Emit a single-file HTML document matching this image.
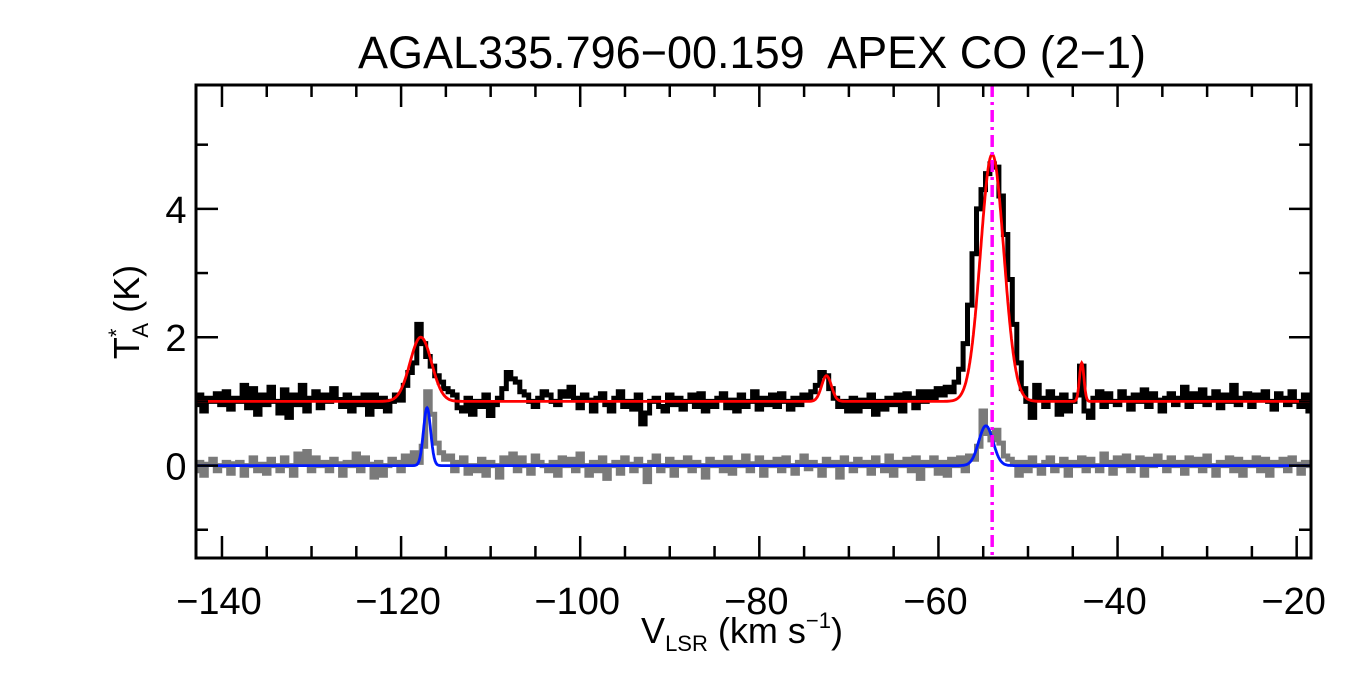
<!DOCTYPE html>
<html><head><meta charset="utf-8">
<style>
html,body{margin:0;padding:0;background:#fff;}
svg{display:block;font-family:"Liberation Sans",Arial,sans-serif;}
</style></head>
<body>
<svg id="chart" width="1350" height="675" viewBox="0 0 1350 675" xmlns="http://www.w3.org/2000/svg">
<rect x="0" y="0" width="1350" height="675" fill="#fff"/>
<text x="752" y="68" font-size="45" text-anchor="middle" fill="#000" style="white-space:pre">AGAL335.796−00.159  APEX CO (2−1)</text>
<g id="plot"></g>
<g id="axes"></g>
<text transform="translate(139,312) rotate(-90)" font-size="36" text-anchor="middle" fill="#000">T<tspan font-size="22" dy="-15">*</tspan><tspan font-size="22" dx="-9" dy="24">A</tspan><tspan dy="-9"> (K)</tspan></text>
<text x="742" y="643" font-size="36" text-anchor="middle" fill="#000">V<tspan font-size="22" dy="8">LSR</tspan><tspan dy="-8"> (km s</tspan><tspan font-size="22" dy="-15">−1</tspan><tspan dy="15">)</tspan></text>
</svg>
<script>
const NS="http://www.w3.org/2000/svg";
const vStart=-143.0, vStep=0.5;
const coSpectrum=[
0.95,1.1,0.85,1.05,1.0,1.12,0.95,1.15,0.88,1.05,
1.0,1.25,0.9,1.2,0.8,1.1,0.95,1.22,1.0,0.82,
1.18,0.75,1.1,0.95,1.25,0.85,1.05,1.15,0.9,1.1,
1.0,1.2,1.03,0.92,1.1,0.85,1.05,0.95,1.1,0.8,
1.1,0.92,1.05,0.85,1.0,1.1,1.02,1.25,1.45,1.6,
2.2,1.9,1.7,1.55,1.4,1.3,1.2,1.15,1.1,0.9,
0.85,1.05,0.8,1.0,0.92,1.1,0.78,0.95,1.05,1.2,
1.45,1.35,1.3,1.15,1.1,1.0,0.92,1.05,1.15,1.1,
1.0,0.95,1.15,1.08,1.22,1.05,0.9,1.1,1.02,0.85,
1.05,1.12,0.95,0.85,1.05,1.15,0.92,1.0,0.88,1.1,
0.65,0.82,1.0,1.05,0.92,0.85,1.1,0.95,1.05,0.88,
1.0,1.1,0.92,1.12,0.85,1.0,0.92,1.05,1.12,0.9,
1.02,0.85,1.1,0.92,1.0,1.15,0.88,1.05,0.95,1.1,
0.92,1.12,1.0,0.88,1.05,0.95,1.1,1.03,1.15,1.25,
1.45,1.4,1.2,1.05,0.92,1.0,0.85,1.05,0.85,1.02,
0.92,1.1,0.8,1.0,0.88,1.05,0.95,1.1,0.85,1.12,
1.05,0.9,1.15,1.0,1.15,1.05,1.2,1.1,1.22,1.15,
1.3,1.5,1.9,2.5,3.3,4.0,4.3,4.55,4.7,4.65,
4.2,3.6,2.9,2.2,1.6,1.2,1.0,0.75,1.25,1.05,
0.92,1.15,1.05,0.8,1.1,0.85,1.0,1.1,1.55,0.85,
0.75,1.05,1.15,0.92,1.12,1.0,0.95,1.15,1.05,0.88,
1.1,1.0,1.18,0.92,1.12,1.02,0.85,1.05,1.12,0.95,
1.05,1.22,0.92,1.12,1.0,1.18,0.95,1.05,1.15,0.9,
1.1,1.0,1.25,0.95,1.05,1.12,0.92,1.1,1.02,1.15,
1.0,0.88,1.12,1.05,0.95,1.15,1.0,0.92,1.1,0.85];
const isoSpectrum=[
-0.08,0.05,-0.15,0.02,0.1,-0.08,0.0,0.05,-0.12,0.03,
0.05,-0.15,0.0,0.12,-0.08,0.02,-0.12,0.1,0.0,-0.08,
0.12,0.0,-0.15,0.18,0.05,0.22,-0.08,0.12,0.0,0.05,
-0.08,0.1,0.03,-0.15,0.05,0.0,0.18,-0.08,0.12,0.02,
-0.18,0.05,-0.15,0.0,0.1,0.05,-0.08,0.15,0.02,0.2,
0.05,0.3,1.15,0.8,0.35,0.2,0.1,0.15,-0.08,0.05,
0.12,-0.12,0.0,-0.08,0.1,-0.15,0.05,0.0,-0.18,0.12,
0.05,0.18,-0.08,0.12,0.0,-0.12,0.15,0.05,0.0,-0.08,
0.05,-0.15,0.12,0.0,0.1,-0.08,0.18,0.0,-0.15,0.05,
-0.08,0.12,-0.2,0.0,0.05,-0.12,0.12,0.02,-0.08,0.1,
0.0,-0.25,0.05,0.15,-0.08,0.0,0.1,-0.15,0.05,0.0,
0.12,-0.08,0.05,0.0,-0.18,0.1,0.0,0.05,-0.08,0.12,
-0.12,0.05,0.0,0.15,-0.08,0.03,0.12,-0.15,0.05,0.0,
0.1,-0.08,0.12,0.0,-0.12,0.05,0.15,-0.05,0.05,0.0,
-0.15,0.1,0.0,0.05,-0.18,0.12,0.02,-0.08,0.1,0.0,
0.05,-0.12,0.12,0.0,-0.08,0.15,-0.15,0.05,0.0,0.1,
-0.08,0.12,-0.2,0.05,0.0,0.12,-0.12,0.05,-0.15,0.1,
0.0,0.12,-0.08,0.15,0.1,0.3,0.85,0.5,0.4,0.55,
0.35,0.15,0.1,0.05,-0.15,0.05,-0.08,0.12,0.0,-0.12,
0.05,0.12,-0.08,0.0,0.1,-0.15,0.05,0.0,0.12,-0.08,
0.1,0.0,-0.08,0.18,0.05,-0.12,0.12,0.0,0.15,-0.08,
0.05,0.12,-0.15,0.1,0.0,0.15,0.05,-0.08,0.12,0.0,
0.05,-0.12,0.12,0.0,0.1,-0.08,0.15,0.0,-0.15,0.05,
0.0,0.12,-0.08,0.1,-0.15,0.05,0.0,0.12,-0.08,0.1,
-0.15,0.05,0.0,0.1,-0.08,0.12,0.02,-0.12,0.05,0.0];
const coFitCenters=[-117.8,-72.5,-54.0,-44.0];
const coFitAmps=[1.0,0.4,3.85,0.6];
const coFitSigmas=[1.2,0.55,1.3,0.25];
const coFitBase=1.0;
const isoFitCenters=[-117.1,-54.7];
const isoFitAmps=[0.9,0.62];
const isoFitSigmas=[0.4,0.8];
const isoFitBase=0.0;
const markerVelocity=-54.0;
const xTicks=[-140,-120,-100,-80,-60,-40,-20];
const yTicks=[0,2,4];

const X0=196,X1=1311,Y0=85,Y1=558;
const xMin=-142.9,xMax=-18.4,yMin=-1.44,yMax=5.93;
const sx=v=>X0+(v-xMin)/(xMax-xMin)*(X1-X0);
const sy=t=>Y1-(t-yMin)/(yMax-yMin)*(Y1-Y0);
const plot=document.getElementById('plot');
const axes=document.getElementById('axes');
const defs=document.createElementNS(NS,'defs');
defs.innerHTML='<clipPath id="clip"><rect x="196" y="85" width="1115" height="473"/></clipPath>';
document.getElementById('chart').appendChild(defs);
plot.setAttribute('clip-path','url(#clip)');

function stepPath(arr){
  let d='';
  arr.forEach((t,i)=>{
    const v=vStart+i*vStep;
    const xa=sx(v-vStep/2),xb=sx(v+vStep/2),y=sy(t);
    d+=(i===0?'M':'L')+xa.toFixed(1)+','+y.toFixed(1)+'L'+xb.toFixed(1)+','+y.toFixed(1);
  });
  return d;
}
function fitPath(c,a,s,base){
  let d='';
  for(let v=xMin;v<=xMax;v+=0.05){
    let t=base;
    for(let k=0;k<c.length;k++) t+=a[k]*Math.exp(-0.5*Math.pow((v-c[k])/s[k],2));
    d+=(d?'L':'M')+sx(v).toFixed(1)+','+sy(t).toFixed(1);
  }
  return d;
}
const gray=document.createElementNS(NS,'path');
gray.setAttribute('d',stepPath(isoSpectrum));
gray.setAttribute('fill','none');gray.setAttribute('stroke','#7a7a7a');gray.setAttribute('stroke-width','5');


plot.appendChild(gray);
const black=document.createElementNS(NS,'path');
black.setAttribute('d',stepPath(coSpectrum));
black.setAttribute('fill','none');black.setAttribute('stroke','#000');black.setAttribute('stroke-width','5');


plot.appendChild(black);
const blue=document.createElementNS(NS,'path');
blue.setAttribute('d',fitPath(isoFitCenters,isoFitAmps,isoFitSigmas,isoFitBase));
blue.setAttribute('fill','none');blue.setAttribute('stroke','#0018ff');blue.setAttribute('stroke-width','2.8');


plot.appendChild(blue);
const red=document.createElementNS(NS,'path');
red.setAttribute('d',fitPath(coFitCenters,coFitAmps,coFitSigmas,coFitBase));
red.setAttribute('fill','none');red.setAttribute('stroke','#ff0000');red.setAttribute('stroke-width','2.8');


plot.appendChild(red);
const mk=document.createElementNS(NS,'line');
mk.setAttribute('x1',sx(markerVelocity));mk.setAttribute('x2',sx(markerVelocity));
mk.setAttribute('y1',Y0);mk.setAttribute('y2',Y1);
mk.setAttribute('stroke','#ff00ff');mk.setAttribute('stroke-width','3.5');mk.setAttribute('stroke-dasharray','12,5,3,5');


plot.appendChild(mk);

function line(x1,y1,x2,y2,w,name){
  const l=document.createElementNS(NS,'line');
  l.setAttribute('x1',x1);l.setAttribute('y1',y1);l.setAttribute('x2',x2);l.setAttribute('y2',y2);
  l.setAttribute('stroke','#000');l.setAttribute('stroke-width',w);
  
  
  axes.appendChild(l);
}
const frame=document.createElementNS(NS,'rect');
frame.setAttribute('x',X0);frame.setAttribute('y',Y0);frame.setAttribute('width',X1-X0);frame.setAttribute('height',Y1-Y0);
frame.setAttribute('fill','none');frame.setAttribute('stroke','#000');frame.setAttribute('stroke-width','3');


axes.appendChild(frame);
for(let v=-140;v<=-20;v+=5){
  const major=(v%20===0);const L=major?22:12;const x=sx(v);
  line(x,Y1,x,Y1-L,2.5,'x-tick');
  line(x,Y0,x,Y0+L,2.5,'x-tick');
}
for(let t=-1;t<=5;t+=1){
  const major=(t%2===0);const L=major?22:12;const y=sy(t);
  line(X0,y,X0+L,y,2.5,'y-tick');
  line(X1,y,X1-L,y,2.5,'y-tick');
}
xTicks.forEach(v=>{
  const t=document.createElementNS(NS,'text');
  t.setAttribute('x',sx(v)-3);t.setAttribute('y',614);t.setAttribute('font-size','38');t.setAttribute('text-anchor','middle');
  t.textContent=String(v).replace('-','−');
  
  
  axes.appendChild(t);
});
yTicks.forEach(v=>{
  const t=document.createElementNS(NS,'text');
  t.setAttribute('x',176);t.setAttribute('y',sy(v)+14);t.setAttribute('font-size','38');t.setAttribute('text-anchor','middle');
  t.textContent=String(v);
  
  
  axes.appendChild(t);
});
</script>
</body></html>
